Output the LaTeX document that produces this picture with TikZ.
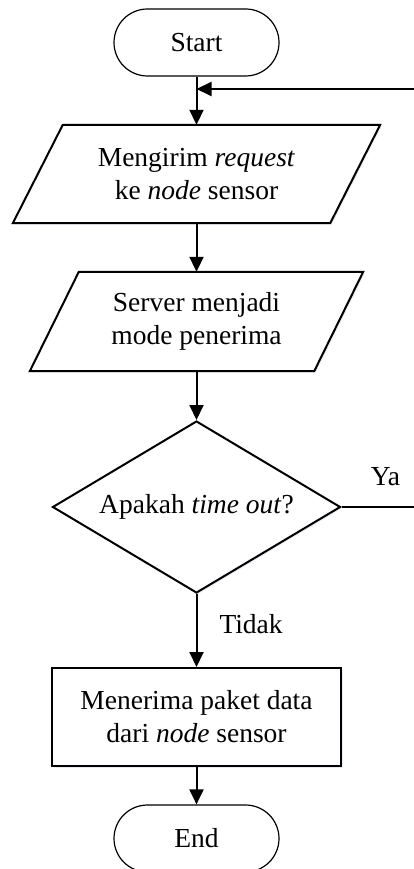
\documentclass[tikz,border=0pt]{standalone}
\usepackage{fontspec}
\setmainfont{Liberation Serif}
\usetikzlibrary{shapes.geometric,shapes.misc,arrows.meta,shadows,backgrounds}
\definecolor{shadowblue}{RGB}{185,200,222}

\begin{document}
\begin{tikzpicture}[x=1pt,y=-1pt,
  every node/.style={font=\fontsize{27.5}{33}\selectfont, align=center, inner sep=0pt},
  flowline/.style={line width=2pt},
  flowarrow/.style={line width=2pt, -{Triangle[length=15pt,width=14pt]}},
  softshadow/.style={drop shadow={shadow xshift=1.5pt, shadow yshift=-1.5pt, opacity=0.35, fill=shadowblue}},
  terminal/.style={rounded rectangle, draw, line width=1.2pt, fill=white,
    minimum width=165pt, minimum height=67pt},
  iobox/.style={minimum height=98pt},
  procbox/.style={draw, line width=2pt, fill=white, softshadow,
    minimum width=289pt, minimum height=98pt},
  decision/.style={diamond, draw, line width=2pt, fill=white, softshadow, aspect=1.67,
    minimum width=288pt, minimum height=172pt},
  ioshape/.style={draw, line width=2pt, fill=white, softshadow, line join=miter}
]
\useasboundingbox (0,0) rectangle (414,869);

% nodes
\node[terminal] (start) at (196.5,42.5) {Start};
\node[iobox, minimum width=367pt] (send) at (196.5,174) {Mengirim \textit{request}\\ke \textit{node} sensor};
\node[iobox, minimum width=333pt, minimum height=99pt] (listen) at (196.5,321.5) {Server menjadi\\mode penerima};
\node[decision] (timeout) at (196.5,507) {Apakah \textit{time out}?};
\node[procbox] (recv) at (196.5,717) {Menerima paket data\\dari \textit{node} sensor};
\node[terminal] (end) at (196.5,838.5) {End};

% parallelogram outlines of the input/output steps
\begin{scope}[on background layer]
  \draw[ioshape] ([xshift=50pt]send.north west) -- (send.north east)
    -- ([xshift=-50pt]send.south east) -- (send.south west) -- cycle;
  \draw[ioshape] ([xshift=49pt]listen.north west) -- (listen.north east)
    -- ([xshift=-49pt]listen.south east) -- (listen.south west) -- cycle;
\end{scope}

% free ends of the loop-back lines
\coordinate (loopin) at (416,89);
\coordinate (yesout) at (416,507);

% connectors
\draw[flowarrow] (start.south) -- (send.north);
\draw[flowarrow] (loopin) -- (loopin -| start.south);
\draw[flowarrow] (send.south) -- (listen.north);
\draw[flowarrow] (listen.south) -- (timeout.north);
\draw[flowline] (timeout.east) -- node[pos=0.59, above=20pt] {Ya} (yesout);
\draw[flowarrow] (timeout.south) -- node[pos=0.41, anchor=west, xshift=22pt] {Tidak} (recv.north);
\draw[flowarrow] (recv.south) -- (end.north);
\end{tikzpicture}
\end{document}
